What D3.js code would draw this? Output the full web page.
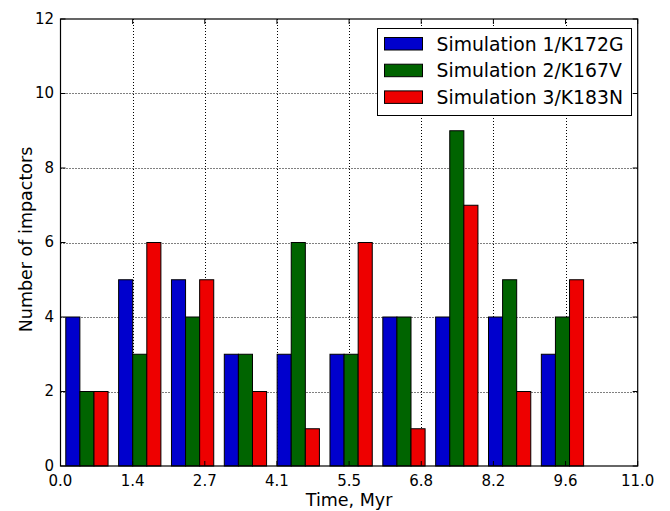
<!DOCTYPE html>
<html>
<head>
<meta charset="utf-8">
<script src="https://cdn.jsdelivr.net/npm/d3@7"></script>
<style>
  body { margin: 0; background: #fff; }
  text { font-family: "DejaVu Sans", sans-serif; fill: #000; }
</style>
</head>
<body>
<div id="chart"></div>
<script>
// bin left edges (Myr axis units), 10 bins
const binEdges = [0.00, 1.007, 2.014, 3.021, 4.028, 5.035, 6.042, 7.049, 8.056, 9.063, 10.07];

const seriesNames = ["Simulation 1/K172G", "Simulation 2/K167V", "Simulation 3/K183N"];
const seriesColors = ["#0000cd", "#006400", "#ee0000"];

const sim1 = [4, 5, 5, 3, 3, 3, 4, 4, 4, 3];
const sim2 = [2, 3, 4, 3, 6, 3, 4, 9, 5, 4];
const sim3 = [2, 6, 5, 2, 1, 6, 1, 7, 2, 5];

const xTicks = [0, 1.375, 2.75, 4.125, 5.5, 6.875, 8.25, 9.625, 11];
const xTickLabels = ["0.0", "1.4", "2.7", "4.1", "5.5", "6.8", "8.2", "9.6", "11.0"];
const yTicks = [0, 2, 4, 6, 8, 10, 12];

const W = 670, H = 511;
const plotL = 60.5, plotR = 637.7, plotT = 19, plotB = 466;

const svg = d3.select("#chart")
    .append("svg")
    .attr("width", W)
    .attr("height", H);

const x = d3.scaleLinear().domain([0, 11]).range([plotL, plotR]);
const y = d3.scaleLinear().domain([0, 12]).range([plotB, plotT]);

// grid (dotted, behind bars)
const grid = svg.append("g")
    .attr("stroke", "#000")
    .attr("stroke-width", 1)
    .attr("stroke-dasharray", "1,2");

grid.selectAll("line.gx")
    .data(xTicks.slice(1, -1))
    .enter().append("line")
    .attr("x1", d => Math.round(x(d)) + 0.5)
    .attr("x2", d => Math.round(x(d)) + 0.5)
    .attr("y1", plotT)
    .attr("y2", plotB);

grid.selectAll("line.gy")
    .data(yTicks.slice(1, -1))
    .enter().append("line")
    .attr("x1", plotL)
    .attr("x2", plotR)
    .attr("y1", d => Math.round(y(d)) + 0.5)
    .attr("y2", d => Math.round(y(d)) + 0.5);

// bars
const allSeries = [sim1, sim2, sim3];

allSeries.forEach(function(vals, s) {
    svg.append("g")
        .selectAll("rect")
        .data(vals)
        .enter().append("rect")
        .attr("x", function(d, i) {
            const w = binEdges[i + 1] - binEdges[i];
            return x(binEdges[i] + 0.1 * w + s * 0.8 * w / 3);
        })
        .attr("width", function(d, i) {
            const w = binEdges[i + 1] - binEdges[i];
            return x(0.8 * w / 3) - x(0);
        })
        .attr("y", d => y(d))
        .attr("height", d => y(0) - y(d))
        .attr("fill", seriesColors[s])
        .attr("stroke", "#000")
        .attr("stroke-width", 1);
});

// frame
svg.append("rect")
    .attr("x", plotL)
    .attr("y", plotT)
    .attr("width", plotR - plotL)
    .attr("height", plotB - plotT)
    .attr("fill", "none")
    .attr("stroke", "#000")
    .attr("stroke-width", 1.2);

// inward ticks on all four sides
const tk = svg.append("g").attr("stroke", "#000").attr("stroke-width", 1);
xTicks.forEach(function(t) {
    tk.append("line").attr("x1", x(t)).attr("x2", x(t)).attr("y1", plotB).attr("y2", plotB - 5);
    tk.append("line").attr("x1", x(t)).attr("x2", x(t)).attr("y1", plotT).attr("y2", plotT + 5);
});
yTicks.forEach(function(t) {
    tk.append("line").attr("x1", plotL).attr("x2", plotL + 5).attr("y1", y(t)).attr("y2", y(t));
    tk.append("line").attr("x1", plotR).attr("x2", plotR - 5).attr("y1", y(t)).attr("y2", y(t));
});

// tick labels
svg.append("g")
    .selectAll("text")
    .data(xTicks)
    .enter().append("text")
    .attr("x", d => x(d))
    .attr("y", 485.5)
    .attr("text-anchor", "middle")
    .style("font-size", "15px")
    .text((d, i) => xTickLabels[i]);

svg.append("g")
    .selectAll("text")
    .data(yTicks)
    .enter().append("text")
    .attr("x", 54)
    .attr("y", d => y(d))
    .attr("dy", "0.32em")
    .attr("text-anchor", "end")
    .style("font-size", "15px")
    .text(d => d);

// axis labels
svg.append("text")
    .attr("x", (plotL + plotR) / 2)
    .attr("y", 506)
    .attr("text-anchor", "middle")
    .style("font-size", "17.5px")
    .text("Time, Myr");

svg.append("text")
    .attr("transform", "translate(32," + ((plotT + plotB) / 2 - 3) + ") rotate(-90)")
    .attr("text-anchor", "middle")
    .style("font-size", "17.5px")
    .text("Number of impactors");

// legend
const lg = svg.append("g").attr("transform", "translate(377.5,28.5)");
lg.append("rect")
    .attr("width", 254)
    .attr("height", 87)
    .attr("fill", "#fff")
    .attr("stroke", "#000")
    .attr("stroke-width", 1);

const items = lg.selectAll("g.item")
    .data(seriesNames)
    .enter().append("g")
    .attr("transform", (d, i) => "translate(0," + (9 + i * 26.7) + ")");

items.append("rect")
    .attr("x", 7)
    .attr("width", 38)
    .attr("height", 12.5)
    .attr("fill", (d, i) => seriesColors[i])
    .attr("stroke", "#000")
    .attr("stroke-width", 1);

items.append("text")
    .attr("x", 59)
    .attr("y", 6.5)
    .attr("dy", "0.36em")
    .style("font-size", "18.8px")
    .text(d => d);
</script>
</body>
</html>
